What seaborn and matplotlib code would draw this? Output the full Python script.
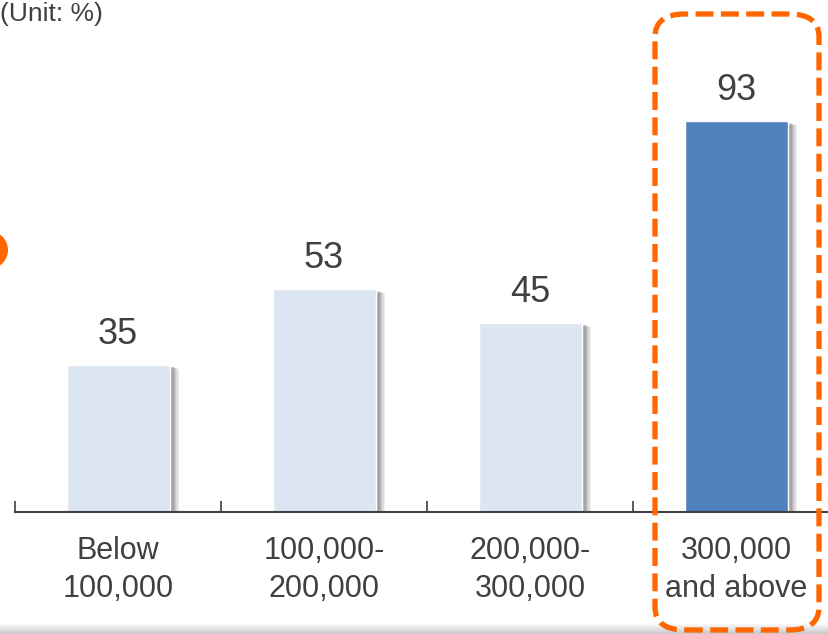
import numpy as np
import pandas as pd
import matplotlib
matplotlib.use("Agg")
import matplotlib.pyplot as plt
import seaborn as sns
from matplotlib import patheffects as pe
from matplotlib.patches import FancyBboxPatch, Circle
from matplotlib.colors import LinearSegmentedColormap

categories = ["Below\n100,000", "100,000-\n200,000", "200,000-\n300,000", "300,000\nand above"]
values = [35, 53, 45, 93]
colors = ["#DCE6F2", "#DCE6F2", "#DCE6F2", "#4F81BD"]
unit_label = "(Unit: %)"

sns.set_theme(style="white")
plt.rcParams["font.family"] = ["Liberation Sans", "DejaVu Sans"]

W, H, DPI = 829, 634, 100
fig = plt.figure(figsize=(W / DPI, H / DPI), dpi=DPI)

# axes placement in pixels
ax_left, ax_right = 15, 839
ax_base, ax_top = 512, 92
ax = fig.add_axes([ax_left / W, (H - ax_base) / H, (ax_right - ax_left) / W, (ax_base - ax_top) / H])

df = pd.DataFrame({"cat": categories, "val": values})
sns.barplot(data=df, x="cat", y="val", hue="cat", palette=colors, legend=False,
            width=0.5, ax=ax, saturation=1, edgecolor="white", linewidth=1)

shadow_fx = []
for k, a in [(7, 0.10), (6, 0.12), (5, 0.15), (4, 0.18), (3, 0.2)]:
    shadow_fx.append(pe.SimplePatchShadow(offset=(k, -k * 0.4), shadow_rgbFace="#606060", alpha=a))
for p in ax.patches:
    p.set_path_effects(shadow_fx + [pe.Normal()])

for i, v in enumerate(values):
    ax.text(i, v + 5, str(v), ha="center", va="baseline", fontsize=26, color="#404040")

ax.set_xlim(-0.5, 3.5)
ax.set_ylim(0, 100)
ax.set_xlabel("")
ax.set_ylabel("")
ax.set_yticks([])
for s in ["top", "right", "left"]:
    ax.spines[s].set_visible(False)
ax.spines["bottom"].set_color("#404040")
ax.spines["bottom"].set_linewidth(1.5)

ax.set_xticks([-0.5, 0.5, 1.5, 2.5])
ax.set_xticklabels([])
ax.tick_params(axis="x", which="major", direction="in", length=8, width=1.2, color="#404040", bottom=True)
ax.set_xticks(range(len(categories)), minor=True)
ax.set_xticklabels(categories, minor=True, fontsize=22, color="#404040", linespacing=1.38)
ax.tick_params(axis="x", which="minor", length=0, pad=17)

# unit label
fig.text(0.0, (H - 21) / H, unit_label, ha="left", va="baseline", fontsize=19, color="#404040")

# dashed highlight box
box_l, box_r, box_t, box_b = 655, 819, 14, 630
box = FancyBboxPatch(((box_l) / W, (H - box_b) / H), (box_r - box_l) / W, (box_b - box_t) / H,
                     boxstyle="round,pad=0,rounding_size=0.036", transform=fig.transFigure,
                     fill=False, edgecolor="#FF6600", linewidth=3.8, linestyle=(0, (3.4, 1.4)),
                     clip_on=False, zorder=10)
fig.add_artist(box)

# partial orange circle at left edge
circ = Circle((-11 / DPI, (H - 250) / DPI), 19 / DPI, transform=fig.dpi_scale_trans,
              facecolor="#FF6600", edgecolor="none")
fig.add_artist(circ)

# bottom gray gradient strip
gax = fig.add_axes([0, 0, 1, 11 / H], zorder=-1)
cmap = LinearSegmentedColormap.from_list("g", ["#ffffff", "#c8c8c8"])
grad = np.linspace(0, 1, 50).reshape(-1, 1)
gax.imshow(grad, aspect="auto", cmap=cmap, extent=[0, 1, 0, 1], origin="upper")
gax.axis("off")

fig.savefig("out.png", dpi=DPI)
